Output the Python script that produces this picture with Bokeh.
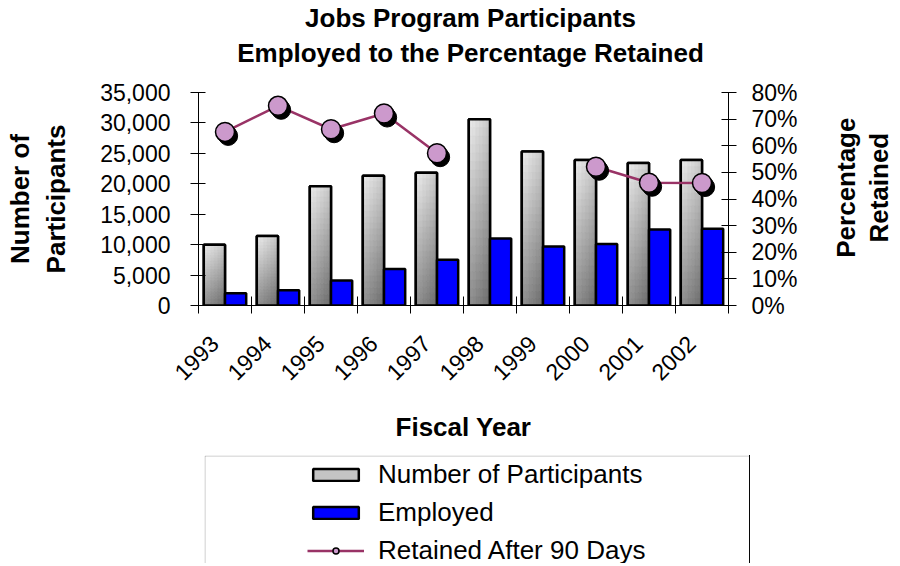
import math
from bokeh.plotting import figure
from bokeh.layouts import column, row
from bokeh.models import (ColumnDataSource, LinearAxis, Range1d, FixedTicker,
                          NumeralTickFormatter, Legend, LegendItem, BoxAnnotation, Spacer)
from bokeh.core.properties import value
from bokeh.embed import file_html
from bokeh.resources import INLINE

# ---------------- data ----------------
years = ["1993", "1994", "1995", "1996", "1997", "1998", "1999", "2000", "2001", "2002"]
participants = [10000, 11400, 19600, 21300, 21800, 30600, 25300, 23900, 23400, 23900]
employed = [2000, 2500, 4100, 6000, 7500, 11000, 9700, 10100, 12500, 12600]
retained = [0.652, 0.75, 0.662, 0.721, 0.572, float("nan"), float("nan"), 0.521, 0.461, 0.46]
left_ticks = [0, 5000, 10000, 15000, 20000, 25000, 30000, 35000]
right_ticks = [0.0, 0.1, 0.2, 0.3, 0.4, 0.5, 0.6, 0.7, 0.8]
title_lines = ["Jobs Program Participants", "Employed to the Percentage Retained"]
right_label_lines = ["Percentage", "Retained"]
series_names = ["Number of Participants", "Employed", "Retained After 90 Days"]

FONT = "Liberation Sans"
xs = [int(y) for y in years]

src = ColumnDataSource(dict(
    x=xs,
    xg=[x - 0.2 for x in xs],
    xb=[x + 0.2 for x in xs],
    part=participants,
    emp=employed,
    ret=retained,
))


def blank(w, h):
    f = figure(width=w, height=h, x_range=Range1d(0, w), y_range=Range1d(0, h),
               output_backend="svg", toolbar_location=None, min_border=0,
               x_axis_location=None, y_axis_location=None)
    f.grid.visible = False
    f.outline_line_color = None
    f.background_fill_color = "white"
    f.border_fill_color = "white"
    return f


# ---------------- title strip ----------------
PW, RW = 800, 90
TW, TH = PW + RW, 70
pt = blank(TW, TH)
pt.text(x=[470, 470], y=[TH - 17.5, TH - 52.5], text=title_lines,
        text_font=value(FONT), text_font_size="26px", text_font_style="bold",
        text_color="black", text_align="center", text_baseline="alphabetic")

# ---------------- main chart ----------------
PH = 385
p = figure(width=PW, height=PH, x_range=Range1d(xs[0] - 0.5, xs[-1] + 0.5),
           y_range=Range1d(0, left_ticks[-1]), output_backend="svg",
           toolbar_location=None, min_border_left=198, min_border_right=64,
           min_border_top=22, min_border_bottom=150)
p.extra_y_ranges = {"pct": Range1d(0, right_ticks[-1])}
p.xgrid.visible = False
p.ygrid.visible = False
p.outline_line_color = None
p.background_fill_color = "white"
p.border_fill_color = "white"

# grey bars: base, gradient shading, outline
p.vbar(x="xg", top="part", width=0.4, source=src, fill_color="#c4c4c4",
       line_color="black", line_width=2.5)
ncol, nrow = 6, 22
ql, qr, qb, qt, qc = [], [], [], [], []
for xc, v in zip(src.data["xg"], participants):
    for c in range(ncol):
        for r in range(nrow):
            u = (c + 0.5) / ncol
            w = (r + 0.5) / nrow  # 0 at top, 1 at bottom
            t = 0.72 * w + 0.28 * u
            g = int(round(238 - 130 * t))
            col = "#%02x%02x%02x" % (g, g, g)
            ql.append(xc - 0.2 + 0.4 * c / ncol)
            qr.append(xc - 0.2 + 0.4 * (c + 1) / ncol)
            qt.append(v * (1 - r / nrow))
            qb.append(v * (1 - (r + 1) / nrow))
            qc.append(col)
p.quad(left=ql, right=qr, bottom=qb, top=qt, fill_color=qc, line_color=qc, line_width=0.6)
p.vbar(x="xg", top="part", width=0.4, source=src, fill_color=None,
       line_color="black", line_width=2.5)

# blue bars
p.vbar(x="xb", top="emp", width=0.4, source=src, fill_color="#0000ff",
       line_color="black", line_width=2.5)

# retained line with shadowed markers
p.line(x="x", y="ret", source=src, y_range_name="pct", line_color="#993366", line_width=2.5)
dx = 3.2 / 53.8
dy = 4.0 / 213 * right_ticks[-1]
shadow_src = ColumnDataSource(dict(
    x1=[x + dx * 0.5 for x in xs], y1=[r - dy * 0.5 for r in retained],
    x2=[x + dx for x in xs], y2=[r - dy for r in retained],
))
p.scatter(x="x1", y="y1", source=shadow_src, y_range_name="pct", size=19,
          fill_color="black", line_color="black")
p.scatter(x="x2", y="y2", source=shadow_src, y_range_name="pct", size=19,
          fill_color="black", line_color="black")
p.scatter(x="x", y="ret", source=src, y_range_name="pct", size=19,
          fill_color="#cc99cc", line_color="black", line_width=1.5)

# axes
label_pos = [x - 0.2 for x in xs]
xa = p.xaxis[0]
xa.ticker = FixedTicker(ticks=label_pos, minor_ticks=[x - 0.5 for x in xs] + [xs[-1] + 0.5])
xa.major_label_overrides = {lp: y for lp, y in zip(label_pos, years)}
xa.major_tick_in = 0
xa.major_tick_out = 0
xa.minor_tick_in = 9
xa.minor_tick_out = 8
xa.minor_tick_line_color = "black"
xa.axis_line_color = "black"
xa.major_label_orientation = math.pi / 4
xa.major_label_standoff = 26
xa.major_label_text_font = FONT
xa.major_label_text_font_size = "23px"
xa.major_label_text_color = "black"
xa.axis_label = "Fiscal Year"
xa.axis_label_text_font = FONT
xa.axis_label_text_font_size = "26px"
xa.axis_label_text_font_style = "bold"
xa.axis_label_text_color = "black"
xa.axis_label_standoff = 21

ya = p.yaxis[0]
ya.ticker = FixedTicker(ticks=left_ticks)
ya.formatter = NumeralTickFormatter(format="0,0")
ya.major_tick_in = 7
ya.major_tick_out = 8
ya.minor_tick_line_color = None
ya.major_label_standoff = 20
ya.major_label_text_font = FONT
ya.major_label_text_font_size = "23px"
ya.major_label_text_color = "black"
ya.axis_line_color = "black"
ya.axis_label = "Number of\nParticipants"
ya.axis_label_text_font = FONT
ya.axis_label_text_font_size = "26px"
ya.axis_label_text_font_style = "bold"
ya.axis_label_text_color = "black"
ya.axis_label_standoff = 26

ra = LinearAxis(y_range_name="pct", ticker=FixedTicker(ticks=right_ticks),
                formatter=NumeralTickFormatter(format="0%"))
ra.major_tick_in = 7
ra.major_tick_out = 8
ra.minor_tick_line_color = None
ra.major_label_standoff = 15
ra.major_label_text_font = FONT
ra.major_label_text_font_size = "23px"
ra.major_label_text_color = "black"
ra.axis_line_color = "black"
p.add_layout(ra, "right")

# ---------------- right axis title strip ----------------
pr = blank(RW, PH)
pr.text(x=[45, 78], y=[PH - 172, PH - 172], text=right_label_lines, angle=math.pi / 2,
        text_font=value(FONT), text_font_size="26px", text_font_style="bold",
        text_color="black", text_align="center", text_baseline="alphabetic")

# ---------------- legend box ----------------
LW, LH = 546, 108
pl = blank(LW, LH)
pl.add_layout(BoxAnnotation(left=0.5, right=LW - 0.5, top=LH - 0.5, bottom=-30,
                            fill_alpha=0, line_color="#333333", line_width=1))
# legend proxies share the chart's data (they fall outside this strip's view)
lg_part = pl.vbar(x="xg", top="part", width=0.4, source=src, fill_color="#c4c4c4",
                  line_color="black", line_width=2.5)
lg_emp = pl.vbar(x="xb", top="emp", width=0.4, source=src, fill_color="#0000ff",
                 line_color="black", line_width=2.5)
lg_line = pl.line(x="x", y="ret", source=src, line_color="#993366", line_width=2.5)
lg_pts = pl.scatter(x="x", y="ret", source=src, size=19, fill_color="#cc99cc",
                    line_color="black", line_width=1.5)
legend = Legend(items=[
    LegendItem(label=series_names[0], renderers=[lg_part]),
    LegendItem(label=series_names[1], renderers=[lg_emp]),
    LegendItem(label=series_names[2], renderers=[lg_line, lg_pts]),
], location="top_right", orientation="vertical", spacing=7, padding=0,
    glyph_width=57, glyph_height=15, label_standoff=14, label_width=LW - 4 - 103 - 71,
    label_text_font=FONT, label_text_font_size="26px", label_text_color="black",
    border_line_color=None, background_fill_alpha=0, margin=4)
pl.add_layout(legend, "center")

layout = column(pt, row(p, pr), row(Spacer(width=204, height=LH), pl))

open("out.html", "w").write(file_html(layout, INLINE))
